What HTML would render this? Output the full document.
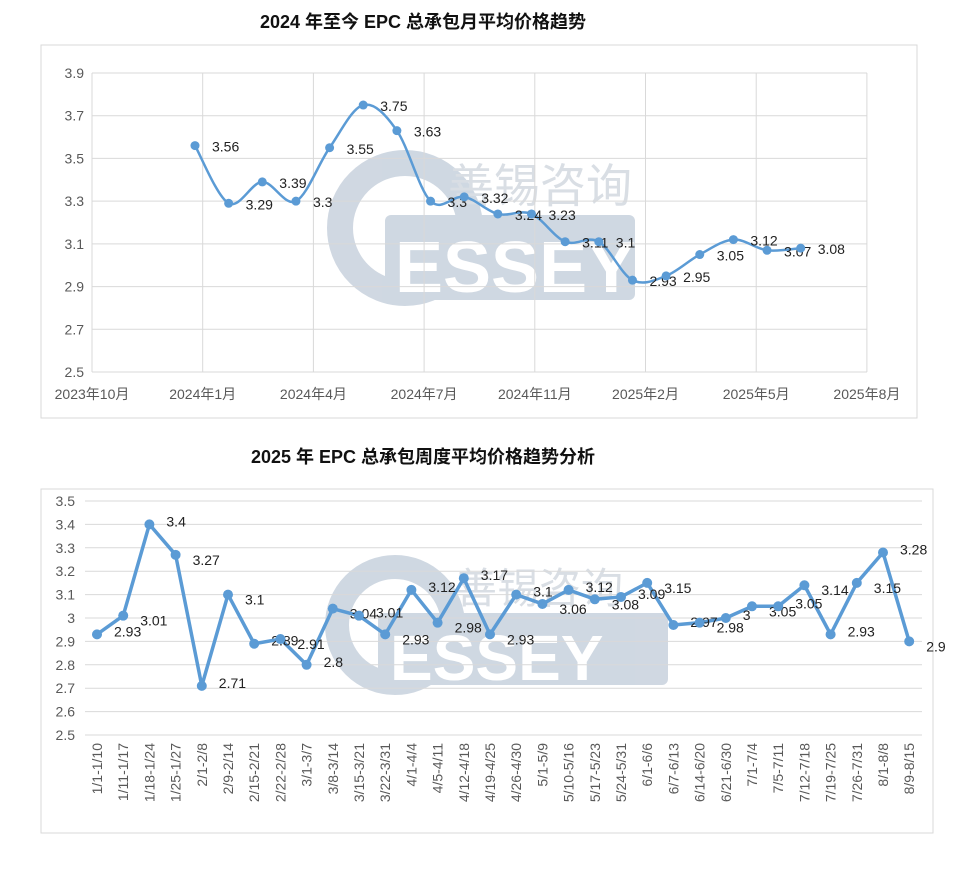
<!DOCTYPE html>
<html><head><meta charset="utf-8">
<style>
body{margin:0;background:#fff;font-family:"Liberation Sans","Noto Sans CJK SC",sans-serif;}
svg text{font-family:"Liberation Sans","Noto Sans CJK SC",sans-serif;}
</style></head>
<body>
<svg id="c" width="956" height="870" viewBox="0 0 956 870">
<rect width="956" height="870" fill="#fff"/>
<text x="423" y="28" text-anchor="middle" font-size="18" font-weight="bold" fill="#111">2024 年至今 EPC 总承包月平均价格趋势</text>
<rect x="41" y="45" width="876" height="373" fill="none" stroke="#d9d9d9"/>
<g opacity="0.7">
<circle cx="405" cy="228" r="65" fill="none" stroke="#bcc8d6" stroke-width="26"/>
<rect x="385" y="215" width="250" height="85" rx="6" fill="#bcc8d6"/>
<text x="395" y="292" font-size="72" font-weight="bold" fill="#fff">ESSEY</text>
<text x="448" y="202" font-size="46" fill="#c9d1da">善锡咨询</text>
</g>
<text x="423" y="463" text-anchor="middle" font-size="18" font-weight="bold" fill="#111">2025 年 EPC 总承包周度平均价格趋势分析</text>
<rect x="41" y="489" width="892" height="344" fill="none" stroke="#d9d9d9"/>
<g opacity="0.7">
<circle cx="395" cy="625" r="58" fill="none" stroke="#bcc8d6" stroke-width="24"/>
<rect x="378" y="613" width="290" height="72" rx="6" fill="#bcc8d6"/>
<text x="390" y="680" font-size="64" font-weight="bold" fill="#fff">ESSEY</text>
<text x="455" y="603" font-size="42" fill="#c9d1da">善锡咨询</text>
</g>
<g id="top"></g>
<g id="bot"></g>
</svg>
<script>
const topValues=[3.56,3.29,3.39,3.3,3.55,3.75,3.63,3.3,3.32,3.24,3.24,3.11,3.11,2.93,2.95,3.05,3.12,3.07,3.08];
const topLabels=["3.56","3.29","3.39","3.3","3.55","3.75","3.63","3.3","3.32","3.24","3.23","3.11","3.1","2.93","2.95","3.05","3.12","3.07","3.08"];
const topXTicks=["2023年10月","2024年1月","2024年4月","2024年7月","2024年11月","2025年2月","2025年5月","2025年8月"];
const topYTicks=[2.5,2.7,2.9,3.1,3.3,3.5,3.7,3.9];
const botCats=["1/1-1/10","1/11-1/17","1/18-1/24","1/25-1/27","2/1-2/8","2/9-2/14","2/15-2/21","2/22-2/28","3/1-3/7","3/8-3/14","3/15-3/21","3/22-3/31","4/1-4/4","4/5-4/11","4/12-4/18","4/19-4/25","4/26-4/30","5/1-5/9","5/10-5/16","5/17-5/23","5/24-5/31","6/1-6/6","6/7-6/13","6/14-6/20","6/21-6/30","7/1-7/4","7/5-7/11","7/12-7/18","7/19-7/25","7/26-7/31","8/1-8/8","8/9-8/15"];
const botValues=[2.93,3.01,3.4,3.27,2.71,3.1,2.89,2.91,2.8,3.04,3.01,2.93,3.12,2.98,3.17,2.93,3.1,3.06,3.12,3.08,3.09,3.15,2.97,2.98,3,3.05,3.05,3.14,2.93,3.15,3.28,2.9];
const botYTicks=[2.5,2.6,2.7,2.8,2.9,3,3.1,3.2,3.3,3.4,3.5];
const NS="http://www.w3.org/2000/svg";
function mk(p,t,a){const e=document.createElementNS(NS,t);for(const k in a)e.setAttribute(k,a[k]);p.appendChild(e);return e;}
const T=document.getElementById('top');
const tY=v=>372-(v-2.5)/1.4*299;
const tTickX=i=>92+i*110.7;
const tX=i=>195+i*33.65;
topYTicks.forEach(v=>{
 const l=mk(T,'line',{x1:92,x2:867,y1:tY(v),y2:tY(v),stroke:'#d9d9d9'});
 
 
 const t=mk(T,'text',{x:84,y:tY(v)+5,'text-anchor':'end','font-size':14,fill:'#595959'});t.textContent=v.toFixed(1);
 
 
});
topXTicks.forEach((s,i)=>{
 const l=mk(T,'line',{x1:tTickX(i),x2:tTickX(i),y1:73,y2:372,stroke:'#d9d9d9'});
 
 
 const t=mk(T,'text',{x:tTickX(i),y:399,'text-anchor':'middle','font-size':14,fill:'#595959'});t.textContent=s;
 
 
});
const pts=topValues.map((v,i)=>[tX(i),tY(v)]);
let d=`M${pts[0][0]},${pts[0][1]}`;
for(let i=0;i<pts.length-1;i++){const p0=pts[i-1]||pts[i],p1=pts[i],p2=pts[i+1],p3=pts[i+2]||p2;
 const c1=[p1[0]+(p2[0]-p0[0])/6,p1[1]+(p2[1]-p0[1])/6],c2=[p2[0]-(p3[0]-p1[0])/6,p2[1]-(p3[1]-p1[1])/6];
 d+=` C${c1[0]},${c1[1]} ${c2[0]},${c2[1]} ${p2[0]},${p2[1]}`;}
const tl=mk(T,'path',{d:d,fill:'none',stroke:'#5b9bd5','stroke-width':2.5});


pts.forEach((p,i)=>{
 const c=mk(T,'circle',{cx:p[0],cy:p[1],r:4.5,fill:'#5b9bd5'});
 
 
 const t=mk(T,'text',{x:p[0]+17,y:p[1]+6,'font-size':14,fill:'#222'});t.textContent=topLabels[i];
 
 
});
const B=document.getElementById('bot');
const bY=v=>735-(v-2.5)*234;
const bX=i=>97+i*26.2;
botYTicks.forEach(v=>{
 const l=mk(B,'line',{x1:85,x2:922,y1:bY(v),y2:bY(v),stroke:'#d9d9d9'});
 
 
 const t=mk(B,'text',{x:75,y:bY(v)+5,'text-anchor':'end','font-size':14,fill:'#595959'});t.textContent=String(v);
 
 
});
botCats.forEach((s,i)=>{
 const t=mk(B,'text',{x:0,y:0,'text-anchor':'end','font-size':14,fill:'#595959',transform:`translate(${bX(i)+5},743) rotate(-90)`});t.textContent=s;
 
 
});
const bl=mk(B,'polyline',{points:botValues.map((v,i)=>bX(i)+','+bY(v)).join(' '),fill:'none',stroke:'#5b9bd5','stroke-width':3.5,'stroke-linejoin':'round'});


botValues.forEach((v,i)=>{
 const c=mk(B,'circle',{cx:bX(i),cy:bY(v),r:5,fill:'#5b9bd5'});
 
 
 const t=mk(B,'text',{x:bX(i)+17,y:bY(v)+(i%2?10:2),'font-size':14,fill:'#222'});t.textContent=String(v);
 
 
});
</script>
</body></html>
